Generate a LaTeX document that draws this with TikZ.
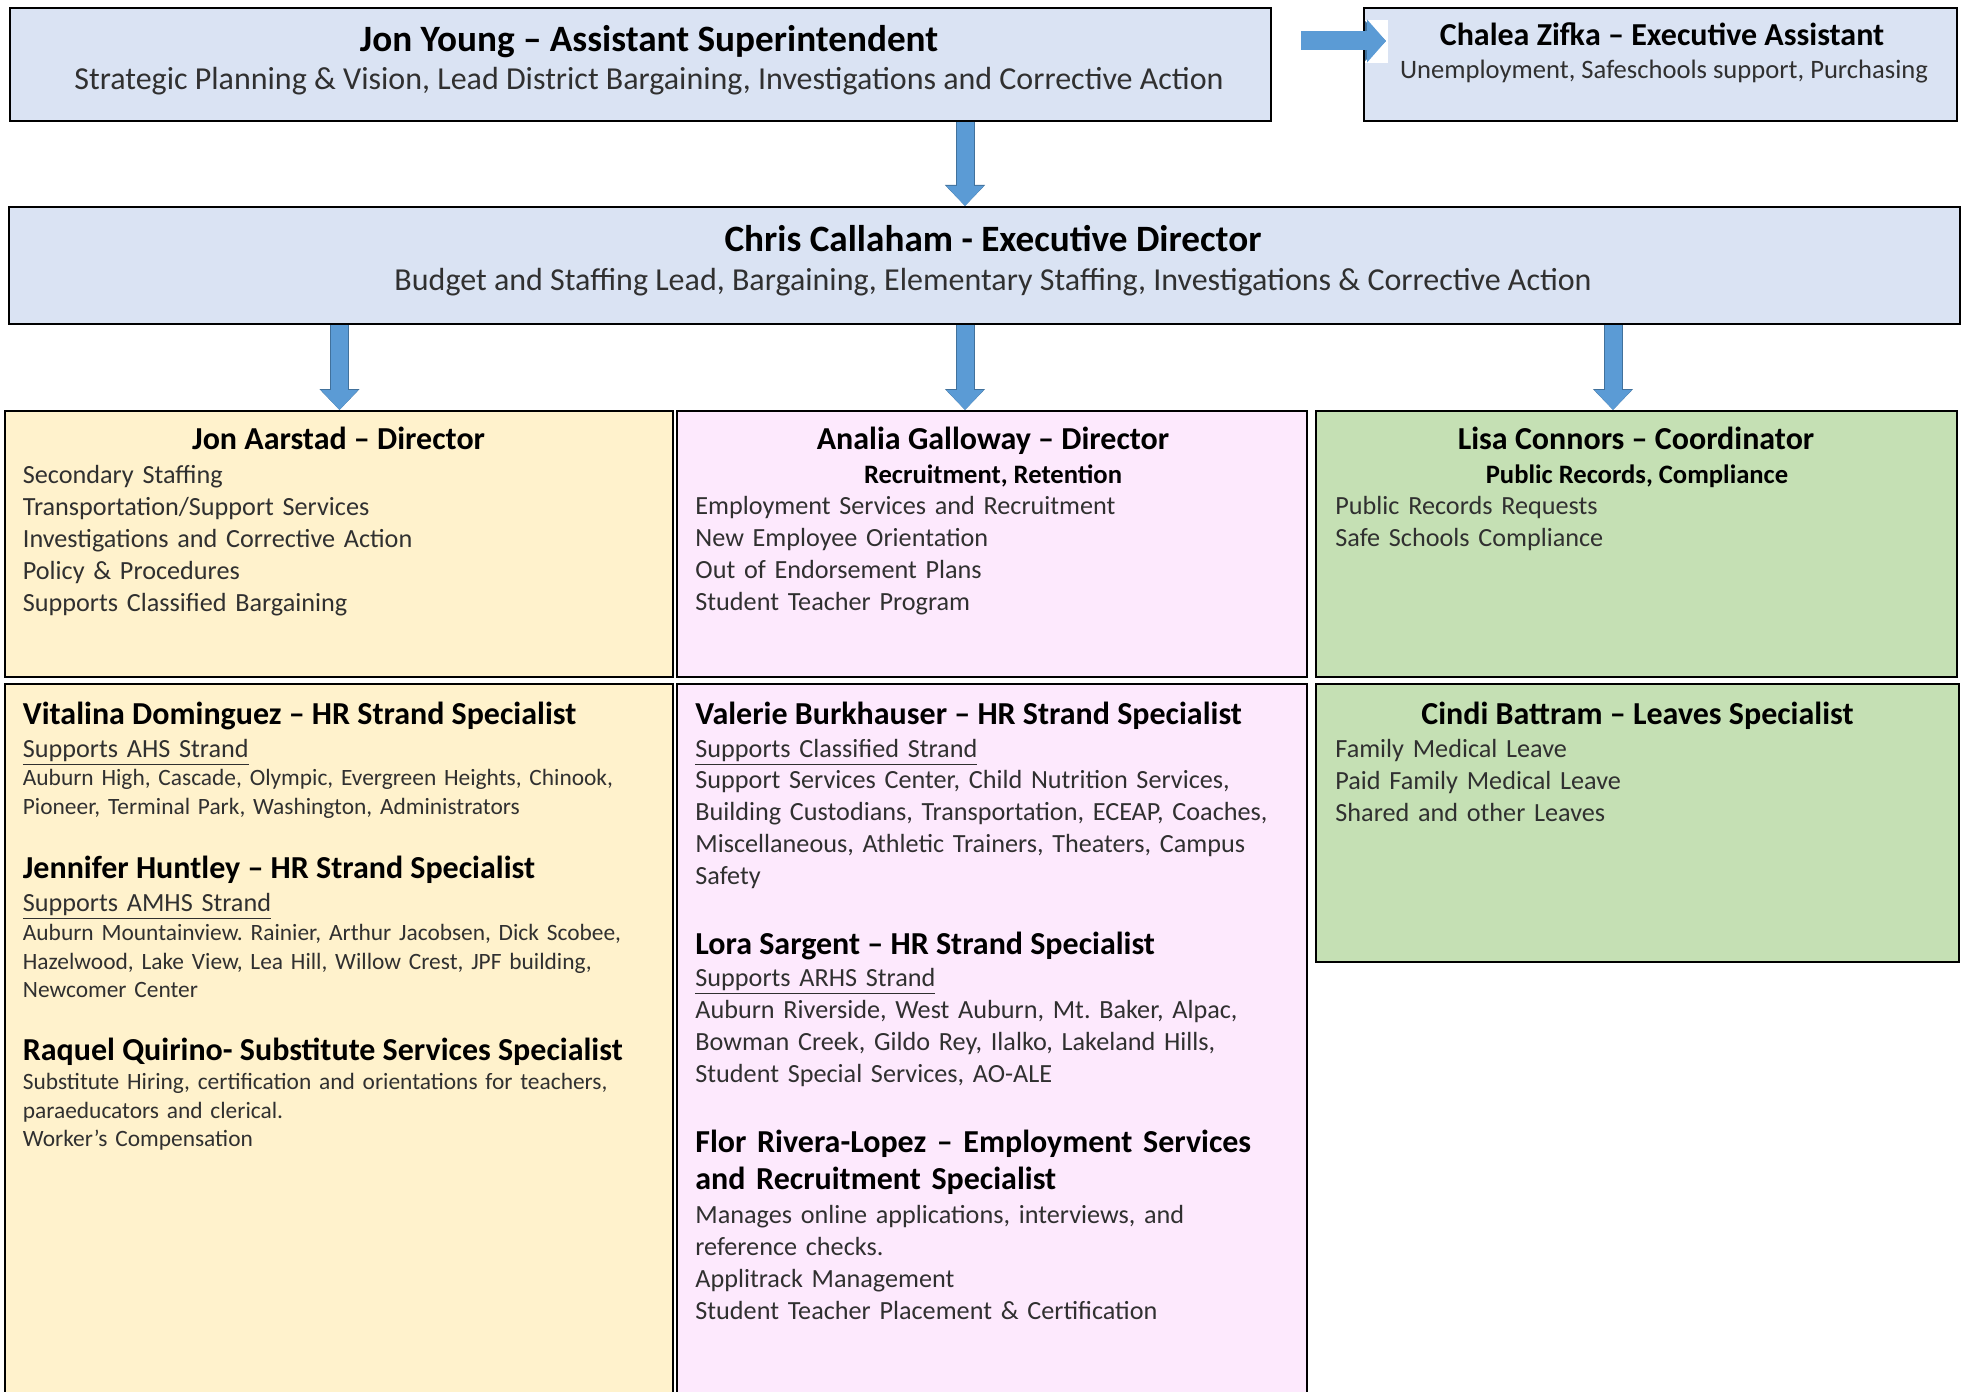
\documentclass[tikz,border=0pt]{standalone}
\usepackage{fontspec}
\setmainfont{Carlito}
\usepackage{xcolor}
\usetikzlibrary{arrows.meta, fit}

\definecolor{boxblue}{HTML}{DAE3F3}
\definecolor{boxyellow}{HTML}{FFF2CC}
\definecolor{boxpink}{HTML}{FDE9FD}
\definecolor{boxgreen}{HTML}{C5E0B4}
\definecolor{arrowfill}{HTML}{5B9BD5}
\definecolor{arrowedge}{HTML}{41719C}
\definecolor{bodytext}{HTML}{303030}

\frenchspacing

\begin{document}
\begin{tikzpicture}[x=0.5pt, y=-0.5pt,
  unit/.style={draw=black, line width=1pt, inner sep=0pt},
  bigtitle/.style={font=\bfseries\fontsize{18.6}{22}\selectfont, anchor=base, inner sep=0pt},
  bigsub/.style={font=\fontsize{16}{19}\selectfont, anchor=base, inner sep=0pt, text=bodytext},
  asstitle/.style={font=\bfseries\fontsize{16}{19}\selectfont, anchor=base, inner sep=0pt},
  asssub/.style={font=\fontsize{13.3}{16}\selectfont, anchor=base, inner sep=0pt, text=bodytext},
  rolename/.style={font=\bfseries\fontsize{16}{18.75}\selectfont, anchor=base, inner sep=0pt},
  staffname/.style={font=\bfseries\fontsize{16}{18.75}\selectfont, anchor=base west, inner sep=0pt},
  focus/.style={font=\bfseries\fontsize{13.3}{16}\selectfont, anchor=base, inner sep=0pt},
  duties/.style={font=\fontsize{13.1}{16}\selectfont, text width=320pt, align=left, anchor=base west, inner sep=0pt, text=bodytext},
  schools/.style={duties, font=\fontsize{11.7}{14.3}\selectfont},
  flow/.style={draw=arrowfill, line width=8.5pt, -{Triangle[width=18pt, length=10pt]},
    preaction={draw=arrowedge, line width=9.5pt, -{Triangle[width=19.5pt, length=10.5pt]}}}]

\useasboundingbox (0,0) rectangle (1963,1391);

% boxes
\node[unit, fill=boxblue, fit={(10,8) (1271,121)}] (young) {};
\node[unit, fill=boxblue, fit={(1364,8) (1957,121)}] (zifka) {};
\node[unit, fill=boxblue, fit={(9,207) (1960,324)}] (callaham) {};
\node[unit, fill=boxyellow, fit={(5,411) (673,677)}] (aarstad) {};
\node[unit, fill=boxpink, fit={(677,411) (1307,677)}] (galloway) {};
\node[unit, fill=boxgreen, fit={(1316,411) (1957,677)}] (connors) {};
\node[unit, fill=boxyellow, fit={(5,684) (673,1400)}] (aarstadteam) {};
\node[unit, fill=boxpink, fit={(677,684) (1307,1400)}] (gallowayteam) {};
\node[unit, fill=boxgreen, fit={(1316,684) (1959,962)}] (battram) {};

% arrows
\coordinate (leftlane) at (339.5,0);
\coordinate (midlane) at (965,0);
\coordinate (rightlane) at (1613,0);
\coordinate (zifkatip) at (1386,41);

\fill[white] (1365,20) rectangle (1388,63);
\draw[flow, line width=9.5pt, -{Triangle[width=21pt, length=9.5pt]}, shorten <=14.5pt] (young.east |- zifkatip) -- (zifkatip);
\draw[flow] (young.south -| midlane) -- (callaham.north -| midlane);
\draw[flow] (callaham.south -| leftlane) -- (aarstad.north -| leftlane);
\draw[flow] (callaham.south -| midlane) -- (galloway.north -| midlane);
\draw[flow] (callaham.south -| rightlane) -- (connors.north -| rightlane);

% top row
\node[bigtitle] (youngname) at (649,51.5) {Jon Young – Assistant Superintendent};
\node[bigsub] (youngtasks) at (649,90) {Strategic Planning \& Vision, Lead District Bargaining, Investigations and Corrective Action};
\node[asstitle] (zifkaname) at (1662,46) {Chalea Zifka – Executive Assistant};
\node[asssub] (zifkatasks) at (1664,79) {Unemployment, Safeschools support, Purchasing};
\node[bigtitle] (callahamname) at (993,251.5) {Chris Callaham - Executive Director};
\node[bigsub] (callahamtasks) at (993,290) {Budget and Staffing Lead, Bargaining, Elementary Staffing, Investigations \& Corrective Action};

% directors
\node[rolename] (aarstadname) at (338.6,449) {Jon Aarstad – Director};
\node[duties] (aarstadduties) at (22.5,483) {Secondary Staffing\\Transportation/Support Services\\Investigations and Corrective Action\\Policy \& Procedures\\Supports Classified Bargaining};

\node[rolename] (gallowayname) at (993,449) {Analia Galloway – Director};
\node[focus] (gallowayfocus) at (993,483) {Recruitment, Retention};
\node[duties] (gallowayduties) at (695,514.5) {Employment Services and Recruitment\\New Employee Orientation\\Out of Endorsement Plans\\Student Teacher Program};

\node[rolename] (connorsname) at (1636,449) {Lisa Connors – Coordinator};
\node[focus] (connorsfocus) at (1637,483) {Public Records, Compliance};
\node[duties] (connorsduties) at (1335,514.5) {Public Records Requests\\Safe Schools Compliance};

% specialists, left
\node[staffname] (dominguez) at (22.5,724) {Vitalina Dominguez – HR Strand Specialist};
\node[duties] (dominguezstrand) at (22.5,757.5) {\underline{Supports AHS Strand}};
\node[schools] (dominguezschools) at (22.5,785.5) {Auburn High, Cascade, Olympic, Evergreen Heights, Chinook,\\Pioneer, Terminal Park, Washington, Administrators};
\node[staffname] (huntley) at (22.5,878) {Jennifer Huntley – HR Strand Specialist};
\node[duties] (huntleystrand) at (22.5,911.5) {\underline{Supports AMHS Strand}};
\node[schools] (huntleyschools) at (22.5,940.5) {Auburn Mountainview. Rainier, Arthur Jacobsen, Dick Scobee,\\Hazelwood, Lake View, Lea Hill, Willow Crest, JPF building,\\Newcomer Center};
\node[staffname] (quirino) at (22.5,1060) {Raquel Quirino- Substitute Services Specialist};
\node[schools] (quirinoduties) at (22.5,1089.5) {Substitute Hiring, certification and orientations for teachers,\\paraeducators and clerical.\\Worker’s Compensation};

% specialists, middle
\node[staffname] (burkhauser) at (695,724) {Valerie Burkhauser – HR Strand Specialist};
\node[duties] (burkhauserstrand) at (695,757.5) {\underline{Supports Classified Strand}};
\node[duties] (burkhauserduties) at (695,788.5) {Support Services Center, Child Nutrition Services,\\Building Custodians, Transportation, ECEAP, Coaches,\\Miscellaneous, Athletic Trainers, Theaters, Campus\\Safety};
\node[staffname] (sargent) at (695,954) {Lora Sargent – HR Strand Specialist};
\node[duties] (sargentstrand) at (695,986.5) {\underline{Supports ARHS Strand}};
\node[duties] (sargentschools) at (695,1018.5) {Auburn Riverside, West Auburn, Mt. Baker, Alpac,\\Bowman Creek, Gildo Rey, Ilalko, Lakeland Hills,\\Student Special Services, AO-ALE};
\node[staffname, text width=320pt, align=left] (riveralopez) at (695,1152) {Flor Rivera-Lopez – Employment Services\\and Recruitment Specialist};
\node[duties] (riveralopezduties) at (695,1223) {Manages online applications, interviews, and\\reference checks.\\Applitrack Management\\Student Teacher Placement \& Certification};

% specialists, right
\node[rolename] (battramname) at (1637.5,724) {Cindi Battram – Leaves Specialist};
\node[duties] (battramduties) at (1335,757.5) {Family Medical Leave\\Paid Family Medical Leave\\Shared and other Leaves};

\end{tikzpicture}
\end{document}
